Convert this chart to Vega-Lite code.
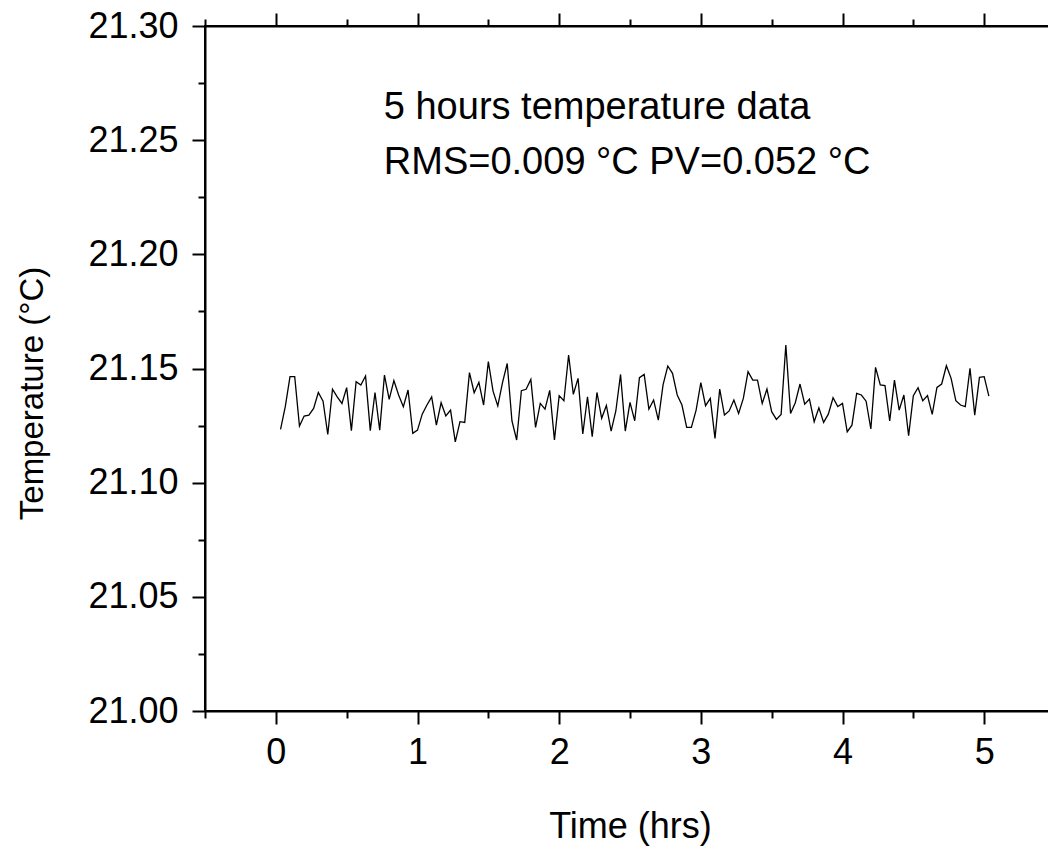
{
"$schema": "https://vega.github.io/schema/vega-lite/v6.json",
"width": 850, "height": 685,
"autosize": {"type": "none"},
"padding": {"left": 205, "top": 26, "right": 0, "bottom": 135},
"background": "white",
"config": {
"view": {"stroke": "black", "strokeWidth": 2},
"font": "Liberation Sans",
"axis": {"domainColor": "black", "domainWidth": 2, "tickColor": "black", "tickWidth": 2, "labelColor": "black", "labelFont": "Liberation Sans", "labelFontSize": 36, "titleFont": "Liberation Sans", "titleFontSize": 36, "titleFontWeight": "normal", "titleColor": "black", "grid": false, "labelOverlap": false, "labelFlush": false}
},
"data": {"values": [
{"t":0.0333,"temp":21.1233},{"t":0.0667,"temp":21.1333},{"t":0.1,"temp":21.1464},{"t":0.1333,"temp":21.1464},{"t":0.1667,"temp":21.1248},{"t":0.2,"temp":21.1292},{"t":0.2333,"temp":21.1296},{"t":0.2667,"temp":21.1325},{"t":0.3,"temp":21.1395},{"t":0.3333,"temp":21.1357},
{"t":0.3667,"temp":21.1211},{"t":0.4,"temp":21.1409},{"t":0.4333,"temp":21.1376},{"t":0.4667,"temp":21.1347},{"t":0.5,"temp":21.1416},{"t":0.5333,"temp":21.1228},{"t":0.5667,"temp":21.1442},{"t":0.6,"temp":21.1428},{"t":0.6333,"temp":21.1467},{"t":0.6667,"temp":21.1228},
{"t":0.7,"temp":21.1395},{"t":0.7333,"temp":21.1230},{"t":0.7667,"temp":21.1471},{"t":0.8,"temp":21.1365},{"t":0.8333,"temp":21.1447},{"t":0.8667,"temp":21.1384},{"t":0.9,"temp":21.1333},{"t":0.9333,"temp":21.1406},{"t":0.9667,"temp":21.1216},{"t":1.0,"temp":21.1230},
{"t":1.0333,"temp":21.1300},{"t":1.0667,"temp":21.1340},{"t":1.1,"temp":21.1376},{"t":1.1333,"temp":21.1252},{"t":1.1667,"temp":21.1350},{"t":1.2,"temp":21.1292},{"t":1.2333,"temp":21.1318},{"t":1.2667,"temp":21.1179},{"t":1.3,"temp":21.1267},{"t":1.3333,"temp":21.1264},
{"t":1.3667,"temp":21.1482},{"t":1.4,"temp":21.1394},{"t":1.4333,"temp":21.1439},{"t":1.4667,"temp":21.1340},{"t":1.5,"temp":21.1530},{"t":1.5333,"temp":21.1401},{"t":1.5667,"temp":21.1336},{"t":1.6,"temp":21.1438},{"t":1.6333,"temp":21.1522},{"t":1.6667,"temp":21.1270},
{"t":1.7,"temp":21.1187},{"t":1.7333,"temp":21.1403},{"t":1.7667,"temp":21.1409},{"t":1.8,"temp":21.1452},{"t":1.8333,"temp":21.1242},{"t":1.8667,"temp":21.1347},{"t":1.9,"temp":21.1322},{"t":1.9333,"temp":21.1404},{"t":1.9667,"temp":21.1187},{"t":2.0,"temp":21.1381},
{"t":2.0333,"temp":21.1359},{"t":2.0667,"temp":21.1559},{"t":2.1,"temp":21.1387},{"t":2.1333,"temp":21.1457},{"t":2.1667,"temp":21.1213},{"t":2.2,"temp":21.1376},{"t":2.2333,"temp":21.1201},{"t":2.2667,"temp":21.1395},{"t":2.3,"temp":21.1282},{"t":2.3333,"temp":21.1338},
{"t":2.3667,"temp":21.1226},{"t":2.4,"temp":21.1314},{"t":2.4333,"temp":21.1474},{"t":2.4667,"temp":21.1226},{"t":2.5,"temp":21.1352},{"t":2.5333,"temp":21.1271},{"t":2.5667,"temp":21.1460},{"t":2.6,"temp":21.1474},{"t":2.6333,"temp":21.1322},{"t":2.6667,"temp":21.1362},
{"t":2.7,"temp":21.1274},{"t":2.7333,"temp":21.1428},{"t":2.7667,"temp":21.1511},{"t":2.8,"temp":21.1479},{"t":2.8333,"temp":21.1384},{"t":2.8667,"temp":21.1340},{"t":2.9,"temp":21.1242},{"t":2.9333,"temp":21.1242},{"t":2.9667,"temp":21.1318},{"t":3.0,"temp":21.1438},
{"t":3.0333,"temp":21.1337},{"t":3.0667,"temp":21.1369},{"t":3.1,"temp":21.1194},{"t":3.1333,"temp":21.1410},{"t":3.1667,"temp":21.1296},{"t":3.2,"temp":21.1314},{"t":3.2333,"temp":21.1362},{"t":3.2667,"temp":21.1303},{"t":3.3,"temp":21.1369},{"t":3.3333,"temp":21.1486},
{"t":3.3667,"temp":21.1449},{"t":3.4,"temp":21.1449},{"t":3.4333,"temp":21.1347},{"t":3.4667,"temp":21.1410},{"t":3.5,"temp":21.1311},{"t":3.5333,"temp":21.1277},{"t":3.5667,"temp":21.1299},{"t":3.6,"temp":21.1603},{"t":3.6333,"temp":21.1303},{"t":3.6667,"temp":21.1350},
{"t":3.7,"temp":21.1432},{"t":3.7333,"temp":21.1344},{"t":3.7667,"temp":21.1366},{"t":3.8,"temp":21.1267},{"t":3.8333,"temp":21.1328},{"t":3.8667,"temp":21.1264},{"t":3.9,"temp":21.1300},{"t":3.9333,"temp":21.1372},{"t":3.9667,"temp":21.1333},{"t":4.0,"temp":21.1347},
{"t":4.0333,"temp":21.1223},{"t":4.0667,"temp":21.1252},{"t":4.1,"temp":21.1391},{"t":4.1333,"temp":21.1384},{"t":4.1667,"temp":21.1357},{"t":4.2,"temp":21.1235},{"t":4.2333,"temp":21.1505},{"t":4.2667,"temp":21.1428},{"t":4.3,"temp":21.1425},{"t":4.3333,"temp":21.1270},
{"t":4.3667,"temp":21.1449},{"t":4.4,"temp":21.1318},{"t":4.4333,"temp":21.1384},{"t":4.4667,"temp":21.1206},{"t":4.5,"temp":21.1381},{"t":4.5333,"temp":21.1416},{"t":4.5667,"temp":21.1359},{"t":4.6,"temp":21.1381},{"t":4.6333,"temp":21.1299},{"t":4.6667,"temp":21.1417},
{"t":4.7,"temp":21.1432},{"t":4.7333,"temp":21.1512},{"t":4.7667,"temp":21.1457},{"t":4.8,"temp":21.1359},{"t":4.8333,"temp":21.1340},{"t":4.8667,"temp":21.1333},{"t":4.9,"temp":21.1501},{"t":4.9333,"temp":21.1296},{"t":4.9667,"temp":21.1461},{"t":5.0,"temp":21.1464},
{"t":5.0333,"temp":21.1379}
]},
"layer": [
{
"mark": {"type": "line", "color": "black", "strokeWidth": 1.3},
"encoding": {
"x": {"field": "t", "type": "quantitative", "scale": {"domain": [-0.5, 5.5], "nice": false, "zero": false},
"axis": {"orient": "bottom", "values": [-0.5, 0, 0.5, 1, 1.5, 2, 2.5, 3, 3.5, 4, 4.5, 5, 5.5], "labelExpr": "datum.value % 1 === 0 ? format(datum.value, 'd') : ''", "tickSize": {"condition": {"test": "datum.value % 1 === 0", "value": 13}, "value": 7}, "labelPadding": 11, "title": "Time (hrs)", "titleY": 126, "titleBaseline": "alphabetic"}},
"y": {"field": "temp", "type": "quantitative", "scale": {"domain": [21.0, 21.3], "nice": false, "zero": false},
"axis": {"orient": "left", "values": [21.0, 21.025, 21.05, 21.075, 21.1, 21.125, 21.15, 21.175, 21.2, 21.225, 21.25, 21.275, 21.3], "format": ".2f", "labelExpr": "round(datum.value * 1000) % 50 === 0 ? datum.label : ''", "tickSize": {"condition": {"test": "round(datum.value * 1000) % 50 === 0", "value": 13}, "value": 7}, "labelPadding": 14, "title": "Temperature (°C)", "titleFontSize": 33, "titleX": -163, "titleY": 367, "titleAngle": -90, "titleBaseline": "alphabetic", "titleAlign": "center"}}
}
},
{
"mark": {"type": "line", "strokeOpacity": 0},
"encoding": {
"x": {"field": "t", "type": "quantitative", "scale": {"domain": [-0.5, 5.5], "nice": false, "zero": false},
"axis": {"orient": "top", "values": [-0.5, 0, 0.5, 1, 1.5, 2, 2.5, 3, 3.5, 4, 4.5, 5, 5.5], "labels": false, "title": null, "tickSize": {"condition": {"test": "datum.value % 1 === 0", "value": 13}, "value": 7}}},
"y": {"field": "temp", "type": "quantitative", "scale": {"domain": [21.0, 21.3], "nice": false, "zero": false}, "axis": null}
}
},
{
"data": {"values": [{"note": "5 hours temperature data"}]},
"mark": {"type": "text", "align": "left", "baseline": "alphabetic", "fontSize": 38, "font": "Liberation Sans", "color": "black"},
"encoding": {
"text": {"field": "note", "type": "nominal"},
"x": {"datum": 0.762, "type": "quantitative", "axis": null},
"y": {"datum": 21.2591, "type": "quantitative", "axis": null}
}
},
{
"data": {"values": [{"note": "RMS=0.009 °C PV=0.052 °C"}]},
"mark": {"type": "text", "align": "left", "baseline": "alphabetic", "fontSize": 38, "font": "Liberation Sans", "color": "black"},
"encoding": {
"text": {"field": "note", "type": "nominal"},
"x": {"datum": 0.762, "type": "quantitative", "axis": null},
"y": {"datum": 21.2350, "type": "quantitative", "axis": null}
}
}
],
"resolve": {"axis": {"x": "independent", "y": "independent"}}
}
